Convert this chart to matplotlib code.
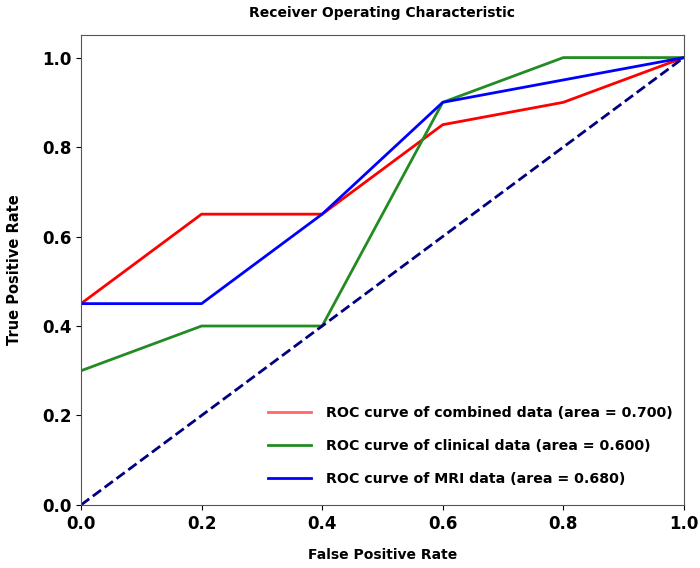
import matplotlib
matplotlib.use("Agg")
import matplotlib.pyplot as plt

fpr_combined = [0.0, 0.2, 0.4, 0.6, 0.8, 1.0]
tpr_combined = [0.45, 0.65, 0.65, 0.85, 0.90, 1.0]
fpr_clinical = [0.0, 0.2, 0.4, 0.6, 0.8, 1.0]
tpr_clinical = [0.30, 0.40, 0.40, 0.90, 1.0, 1.0]
fpr_mri = [0.0, 0.2, 0.4, 0.6, 0.8, 1.0]
tpr_mri = [0.45, 0.45, 0.65, 0.90, 0.95, 1.0]
labels = ["ROC curve of combined data (area = 0.700)",
          "ROC curve of clinical data (area = 0.600)",
          "ROC curve of MRI data (area = 0.680)"]
ticks = [0.0, 0.2, 0.4, 0.6, 0.8, 1.0]

plt.rcParams["font.family"] = "DejaVu Sans"
plt.rcParams["font.weight"] = "bold"

fig = plt.figure(figsize=(7.0, 5.68), dpi=100)
ax = fig.add_axes([0.1157, 0.111, 0.8613, 0.827])

ax.plot(fpr_combined, tpr_combined, color="red", lw=2, label=labels[0])
ax.plot(fpr_clinical, tpr_clinical, color="#228B22", lw=2, label=labels[1])
ax.plot(fpr_mri, tpr_mri, color="blue", lw=2, label=labels[2])
ax.plot([0, 1], [0, 1], color="navy", lw=2, linestyle="--")

ax.set_xlim(0.0, 1.0)
ax.set_ylim(0.0, 1.05)
ax.set_xticks(ticks)
ax.set_yticks(ticks)
ax.set_xticklabels([f"{t:.1f}" for t in ticks], fontsize=12, fontweight="bold")
ax.set_yticklabels([f"{t:.1f}" for t in ticks], fontsize=12, fontweight="bold")
for s in ax.spines.values():
    s.set_color("#555555")

ax.set_xlabel("False Positive Rate", fontsize=10, fontweight="bold", labelpad=11)
ax.set_ylabel("True Positive Rate", fontsize=10.5, fontweight="bold", labelpad=14)
ax.set_title("Receiver Operating Characteristic", fontsize=10, fontweight="bold", pad=13)

leg = ax.legend(loc="lower right", bbox_to_anchor=(1.0, 0.016), frameon=False,
                prop={"weight": "bold", "size": 10.2},
                handlelength=3.0, handletextpad=1.05, labelspacing=1.35, borderaxespad=0.4)
leg.get_lines()[0].set_alpha(0.6)

fig.savefig("out.png", dpi=100)
